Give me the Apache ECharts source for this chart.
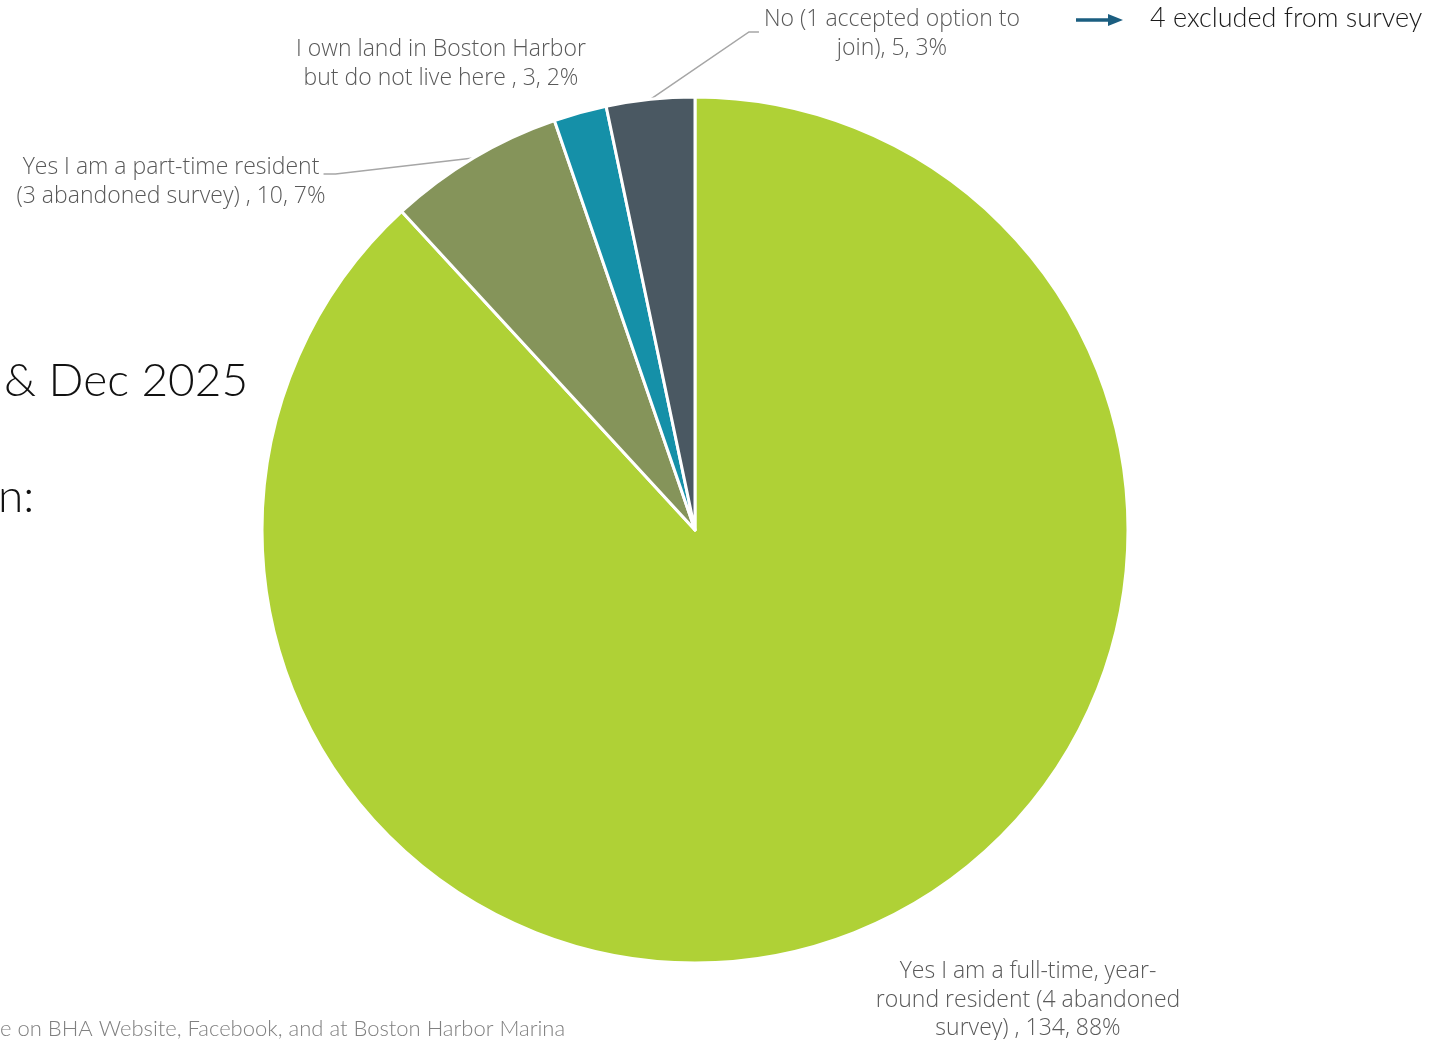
<!DOCTYPE html>
<html><head><meta charset="utf-8">
<script src="https://cdn.jsdelivr.net/npm/echarts@6/dist/echarts.min.js"></script>
<style>html,body{margin:0;padding:0;background:#fff;}#c{width:1432px;height:1040px;}</style>
</head><body><div id="c"></div>
<script>
const categories = [
  'Yes I am a full-time, year-\nround resident (4 abandoned\nsurvey) ',
  'Yes I am a part-time resident\n(3 abandoned survey) ',
  'I own land in Boston Harbor\nbut do not live here ',
  'No (1 accepted option to\njoin)'
];
const counts = [134, 10, 3, 5];
const percents = [88, 7, 2, 3];
const sliceColors = ['#AFD136', '#85945A', '#1590A8', '#4A5862'];
const labelCenters = [[1028, 1000], [171, 182], [441, 64], [892, 34]];
const showLines = [false, true, false, true];
const legendNote = '4 excluded from survey';
const titleFragment = '& Dec 2025';
const subFragment = 'n:';
const footerFragment = 'e on BHA Website, Facebook, and at Boston Harbor Marina';

const FONT = 'Lato';
const LFONT = '"Open Sans"';
const chart = echarts.init(document.getElementById('c'), null, {renderer: 'canvas'});

const data = categories.map((c, i) => ({
  name: c,
  value: counts[i],
  pct: percents[i],
  itemStyle: {color: sliceColors[i]},
  labelLine: {show: showLines[i]}
}));

chart.setOption({
  animation: false,
  backgroundColor: '#ffffff',
  graphic: [
    {type: 'text', left: 4, top: 358, style: {text: titleFragment, font: '300 46px ' + FONT, fill: '#111'}},
    {type: 'text', left: -2, top: 474, style: {text: subFragment, font: '300 46px ' + FONT, fill: '#111'}},
    {type: 'text', left: 0, top: 1018, style: {text: footerFragment, font: '300 22px ' + FONT, fill: '#808080'}},
    {type: 'line', shape: {x1: 1076, y1: 20, x2: 1110, y2: 20}, style: {stroke: '#1B5E80', lineWidth: 3.5}},
    {type: 'polygon', shape: {points: [[1108, 14], [1123, 20], [1108, 26]]}, style: {fill: '#1B5E80'}},
    {type: 'text', left: 1150, top: 5, style: {text: legendNote, font: '300 27px ' + FONT, fill: '#1a1a1a'}}
  ],
  series: [{
    type: 'pie',
    center: [695, 530],
    radius: [0, 433],
    startAngle: 90,
    clockwise: true,
    itemStyle: {borderColor: '#ffffff', borderWidth: 3},
    label: {
      show: true,
      position: 'outside',
      formatter: p => p.name + ', ' + p.value + ', ' + p.data.pct + '%',
      fontFamily: LFONT,
      fontWeight: 300,
      fontSize: 23,
      lineHeight: 28.5,
      color: '#595959',
      align: 'center'
    },
    labelLine: {show: true, lineStyle: {color: '#A6A6A6', width: 1.5}, length: 20, length2: 10},
    labelLayout: function (params) {
      const i = params.dataIndex;
      const pos = labelCenters[i];
      const out = {x: pos[0], y: pos[1], align: 'center', verticalAlign: 'middle'};
      if (showLines[i] && params.labelLinePoints) {
        const p0 = params.labelLinePoints[0];
        const w = params.labelRect.width;
        if (p0[0] < pos[0]) {
          const ex = pos[0] - w / 2 - 5, ey = pos[1] - 2;
          out.labelLinePoints = [p0, [ex - 10, ey], [ex, ey]];
        } else {
          const ex = pos[0] + w / 2 - 2, ey = pos[1] - 8;
          out.labelLinePoints = [p0, [ex + 12, ey], [ex, ey]];
        }
      }
      return out;
    },
    data: data
  }]
});
</script></body></html>
